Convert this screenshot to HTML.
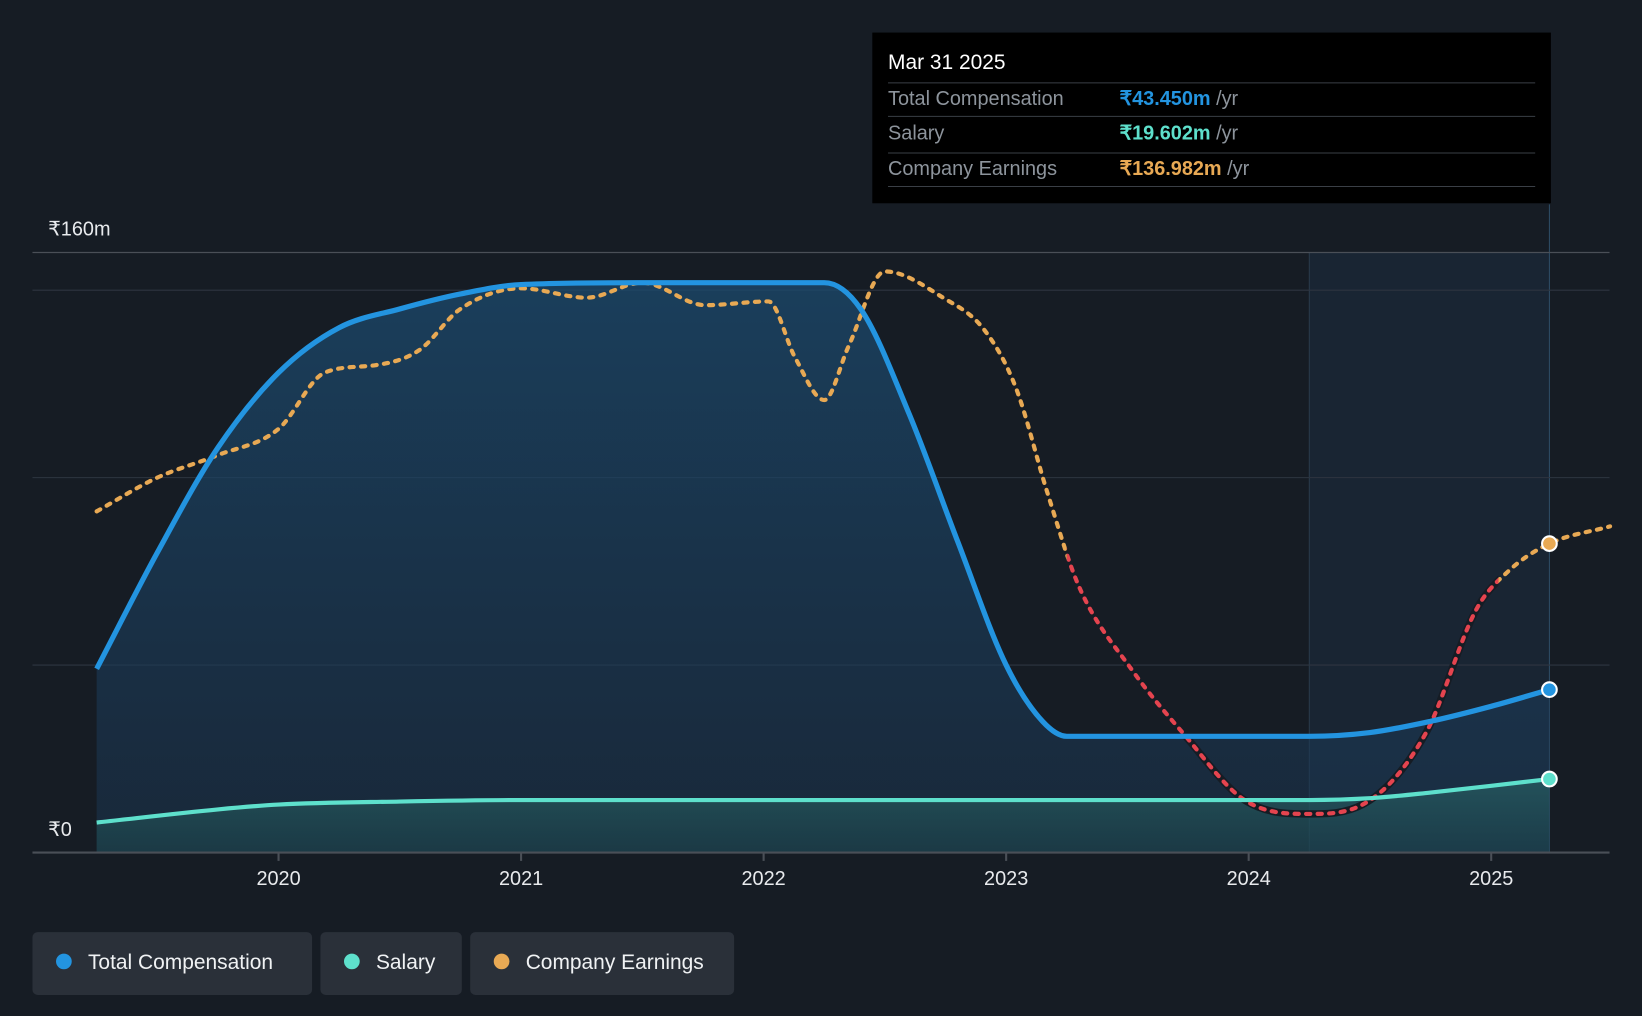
<!DOCTYPE html>
<html><head><meta charset="utf-8"><style>
html,body{margin:0;padding:0;background:#161c24;}
svg{display:block;font-family:"Liberation Sans",sans-serif;}
</style></head><body>
<svg id="c" width="1642" height="1016" viewBox="0 0 1568 970" xmlns="http://www.w3.org/2000/svg">
<rect width="1568" height="970" fill="#161c24"/>
<g id="g"></g>
</svg>
<script>
const years=[2020,2021,2022,2023,2024,2025];
const compX=[2019.25,2019.5,2019.75,2020,2020.25,2020.5,2020.75,2021,2021.5,2022,2022.25,2022.4,2022.6,2022.8,2023,2023.15,2023.25,2023.5,2024,2024.25,2024.5,2024.75,2025,2025.24];
const compY=[49,80,108,128,140,145,149,151.5,152,152,152,145,117,83,50,35,31,31,31,31,32,35,39,43.45];
const salX=[2019.25,2019.75,2020,2020.5,2021,2024.25,2024.5,2024.75,2025,2025.24];
const salY=[8,11.5,12.8,13.6,14,14,14.5,16,17.8,19.6];
const earnX=[2019.25,2019.5,2019.75,2020,2020.19,2020.4,2020.58,2020.75,2021,2021.27,2021.5,2021.76,2022.02,2022.13,2022.25,2022.35,2022.5,2022.74,2022.91,2023.04,2023.17,2023.3,2023.52,2023.73,2023.99,2024.25,2024.47,2024.73,2024.94,2025.07,2025.24,2025.49];
const earnY=[91,100,106,113,128,130,134,145,150.5,148,152,146,147,132,120.7,135,155,148,139.4,124,96,71,48.6,31.8,13.7,10.3,12.8,31.8,65,75,82.4,87];
const gridVals=[50,100,150];
const X=y=>266+(y-2020)*231.6;
const Y=v=>814-v*3.58;
const NS="http://www.w3.org/2000/svg";
const g=document.getElementById('g');
function el(t,a,p){const e=document.createElementNS(NS,t);for(const k in a)e.setAttribute(k,a[k]);(p||g).appendChild(e);return e;}
function smooth(xs,ys){const px=xs.map(X),py=ys.map(Y),n=px.length;const d=[],m=new Array(n);
for(let i=0;i<n-1;i++)d.push((py[i+1]-py[i])/(px[i+1]-px[i]));
m[0]=d[0];m[n-1]=d[n-2];
for(let i=1;i<n-1;i++){m[i]=(d[i-1]*d[i]<=0)?0:(d[i-1]+d[i])/2;}
for(let i=0;i<n-1;i++){if(d[i]===0){m[i]=0;m[i+1]=0;continue;}const a=m[i]/d[i],b=m[i+1]/d[i],s=a*a+b*b;if(s>9){const t=3/Math.sqrt(s);m[i]=t*a*d[i];m[i+1]=t*b*d[i];}}
let p=`M${px[0]},${py[0]}`;
for(let i=0;i<n-1;i++){const h=(px[i+1]-px[i])/3;p+=`C${px[i]+h},${py[i]+m[i]*h} ${px[i+1]-h},${py[i+1]-m[i+1]*h} ${px[i+1]},${py[i+1]}`;}
return p;}
const defs=el('defs',{});
defs.innerHTML='<linearGradient id="cg" x1="0" y1="0" x2="0" y2="1"><stop offset="0" stop-color="#1b4a6e" stop-opacity="0.75"/><stop offset="1" stop-color="#1b3550" stop-opacity="0.5"/></linearGradient><linearGradient id="sg" x1="0" y1="0" x2="0" y2="1"><stop offset="0" stop-color="#2a6a6a" stop-opacity="0.6"/><stop offset="1" stop-color="#1d4a50" stop-opacity="0.5"/></linearGradient><clipPath id="red"><rect x="'+X(2023.25)+'" y="0" width="'+(X(2025.03)-X(2023.25))+'" height="970"/></clipPath>';
let b=el('rect',{x:X(2024.25),y:241,width:X(2025.24)-X(2024.25),height:573,fill:'#1b2a3a',opacity:0.7});

el('line',{x1:X(2024.25),y1:241,x2:X(2024.25),y2:814,stroke:'#2a3a4a'});
el('line',{x1:X(2025.24),y1:195,x2:X(2025.24),y2:814,stroke:'#2d4d66'});
el('line',{x1:31,y1:241,x2:1537,y2:241,stroke:'#4a4f57','stroke-width':1.2});
gridVals.forEach(v=>{const l=el('line',{x1:31,y1:Y(v),x2:1537,y2:Y(v),stroke:'#2e3540'});});
const cd=smooth(compX,compY);
el('path',{d:cd+`L${X(2025.24)},814L${X(2019.25)},814Z`,fill:'url(#cg)'});
const sd=smooth(salX,salY);
el('path',{d:sd+`L${X(2025.24)},814L${X(2019.25)},814Z`,fill:'url(#sg)'});
el('line',{x1:31,y1:814,x2:1537,y2:814,stroke:'#4a4f57','stroke-width':2});
years.forEach(y=>{el('line',{x1:X(y),y1:814,x2:X(y),y2:822,stroke:'#4a4f57','stroke-width':2});
const t=el('text',{x:X(y),y:845,'text-anchor':'middle',fill:'#e8eaed','font-size':19});t.textContent=y;
});
let t=el('text',{x:46,y:225,fill:'#e8eaed','font-size':19});t.textContent='₹160m';
t=el('text',{x:46,y:798,fill:'#e8eaed','font-size':19});t.textContent='₹0';
const ed=smooth(earnX,earnY);
let e1=el('path',{d:ed,fill:'none',stroke:'#e8a954','stroke-width':4,'stroke-dasharray':'4 7','stroke-linecap':'round'});

el('path',{d:ed,fill:'none',stroke:'#161c24','stroke-width':7,'clip-path':'url(#red)'});
el('path',{d:ed,fill:'none',stroke:'#e5444f','stroke-width':4,'stroke-dasharray':'4 7','stroke-linecap':'round','clip-path':'url(#red)'});
let c1=el('path',{d:cd,fill:'none',stroke:'#2394e0','stroke-width':5});
let s1=el('path',{d:sd,fill:'none',stroke:'#5ee0cc','stroke-width':4});
[[compY,'#2394e0','total-comp-dot'],[salY,'#5ee0cc','salary-dot']].forEach(([a,c,n])=>{const d=el('circle',{cx:X(2025.24),cy:Y(a[a.length-1]),r:7,fill:c,stroke:'#fff','stroke-width':2});});
const ed2=el('circle',{cx:X(2025.24),cy:Y(82.4),r:7,fill:'#e8a954',stroke:'#fff','stroke-width':2});
const tip=el('g',{});
el('rect',{x:833,y:31,width:648,height:163,fill:'#000'},tip);
t=el('text',{x:848,y:66,fill:'#fff','font-size':20},tip);t.textContent='Mar 31 2025';
[[79,'Total Compensation','₹43.450m','#2394e0',100],[111,'Salary','₹19.602m','#5ee0cc',133],[146,'Company Earnings','₹136.982m','#e8a954',167]].forEach(([ly,l,v,c,ty])=>{
el('line',{x1:848,y1:ly,x2:1466,y2:ly,stroke:'#3a3f46'},tip);
let a=el('text',{x:848,y:ty,fill:'#8d949c','font-size':19},tip);a.textContent=l;
a=el('text',{x:1069,y:ty,fill:c,'font-size':19,'font-weight':'bold'},tip);a.innerHTML=v+'<tspan fill="#8d949c" font-weight="normal"> /yr</tspan>';});
el('line',{x1:848,y1:178,x2:1466,y2:178,stroke:'#3a3f46'},tip);
[[31,267,'#2394e0','Total Compensation','legend-total-compensation'],[306,135,'#5ee0cc','Salary','legend-salary'],[449,252,'#e8a954','Company Earnings','legend-company-earnings']].forEach(([x,w,c,l,n])=>{
const lg=el('g',{});
el('rect',{x:x,y:890,width:w,height:60,rx:5,fill:'#2a3039'},lg);
el('circle',{cx:x+30,cy:918,r:7.5,fill:c},lg);
const tt=el('text',{x:x+53,y:925,fill:'#f0f2f4','font-size':20},lg);tt.textContent=l;});
</script>
</body></html>
